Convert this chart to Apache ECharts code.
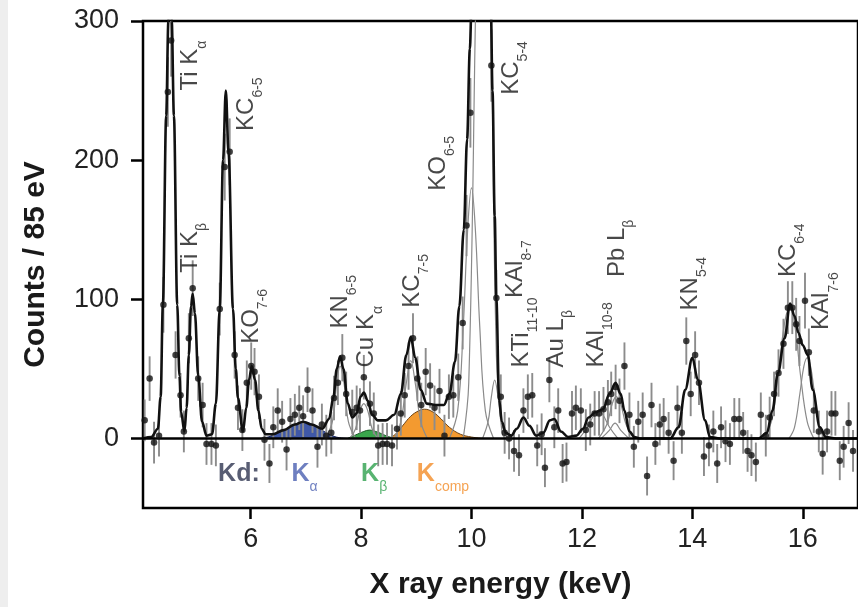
<!DOCTYPE html>
<html><head><meta charset="utf-8">
<script src="https://cdn.jsdelivr.net/npm/echarts@6/dist/echarts.min.js"></script>
<style>html,body{margin:0;padding:0;background:#fff}#c{width:858px;height:607px}</style>
</head><body><div id="c"></div>
<script>
// ---------- DATA ----------
// measured spectrum: [energy keV, counts / 85 eV, error]
const measuredPoints = [
[4.08,13,15],[4.17,43,16],[4.25,-3,15],[4.34,2,15],[4.42,96,20],[4.50,249,25],[4.56,286,26],[4.64,60,17],[4.73,31,16],[4.79,5,15],[4.88,72,18],[4.95,108,20],[5.05,43,16],[5.13,24,16],[5.20,-4,15],[5.29,-4,15],[5.37,-5,15],[5.44,93,19],[5.53,195,24],[5.62,206,24],[5.71,60,17],[5.77,22,16],[5.85,6,15],[5.93,40,16],[6.01,52,17],[6.07,48,17],[6.15,30,16],[6.25,-1,15],[6.34,-18,14],[6.41,8,15],[6.49,20,16],[6.57,12,15],[6.65,-8,15],[6.72,14,15],[6.80,17,15],[6.88,22,16],[6.95,16,15],[7.03,35,16],[7.12,20,16],[7.21,-6,15],[7.29,10,15],[7.37,2,15],[7.46,4,15],[7.51,29,16],[7.58,40,16],[7.66,58,17],[7.73,32,16],[7.84,19,16],[7.92,22,16],[7.98,20,16],[8.05,44,16],[8.16,25,16],[8.23,18,15],[8.31,-5,15],[8.39,-4,15],[8.47,-4,15],[8.56,-5,15],[8.65,7,15],[8.72,18,16],[8.79,31,16],[8.86,52,17],[8.94,72,18],[9.02,43,16],[9.09,24,16],[9.17,48,17],[9.25,38,16],[9.33,22,16],[9.42,34,16],[9.51,2,15],[9.59,30,16],[9.67,31,16],[9.76,44,17],[9.84,83,19],[9.91,153,22],[9.98,234,25],[10.36,268,26],[10.45,101,20],[10.53,30,16],[10.60,4,15],[10.68,0,15],[10.77,-9,15],[10.86,-12,15],[10.94,20,16],[11.02,30,16],[11.10,31,16],[11.19,-5,15],[11.27,3,15],[11.33,-21,14],[11.41,42,16],[11.50,8,15],[11.57,20,16],[11.65,-18,14],[11.72,-17,14],[11.82,18,16],[11.89,22,16],[11.98,20,16],[12.07,6,15],[12.15,10,15],[12.23,18,16],[12.31,18,16],[12.39,21,16],[12.47,26,16],[12.53,32,16],[12.61,37,16],[12.68,27,16],[12.77,52,17],[12.86,17,16],[12.94,-6,15],[13.02,12,15],[13.10,17,16],[13.18,-27,14],[13.26,24,16],[13.33,-4,15],[13.41,10,15],[13.48,14,15],[13.57,4,15],[13.66,-16,14],[13.73,22,16],[13.81,4,15],[13.89,70,17],[13.97,32,16],[14.05,60,17],[14.12,40,16],[14.21,-13,14],[14.30,-5,15],[14.38,5,15],[14.45,-18,14],[14.52,8,15],[14.60,-2,15],[14.68,-4,15],[14.76,14,15],[14.85,14,15],[14.92,4,15],[15.00,-9,15],[15.07,-12,15],[15.15,-17,14],[15.24,17,16],[15.33,2,15],[15.40,15,15],[15.48,32,16],[15.56,47,17],[15.65,68,18],[15.73,94,19],[15.81,94,19],[15.88,82,19],[15.94,70,18],[16.04,99,20],[16.11,62,17],[16.20,20,16],[16.29,5,15],[16.36,-11,15],[16.44,5,15],[16.52,18,16],[16.59,18,16],[16.67,-16,14],[16.74,-6,15],[16.83,11,15],[16.91,-9,15]
];

// total fit curve [keV, counts]
const fitCurve = [[4.05,0],[4.2,1],[4.32,7],[4.37,30],[4.41,96],[4.47,232],[4.51,300],[4.54,330],[4.57,300],[4.61,232],[4.67,96],[4.71,45],[4.74,19],[4.80,5],[4.84,22],[4.88,60],[4.92,95],[4.95,104],[4.99,90],[5.05,45],[5.12,12],[5.20,2],[5.30,3],[5.37,25],[5.44,93],[5.50,200],[5.55,250],[5.60,205],[5.68,93],[5.73,50],[5.77,29],[5.86,5],[5.92,22],[5.97,42],[6.02,52],[6.08,42],[6.14,20],[6.20,7],[6.27,3],[6.4,3],[6.6,6],[6.8,10],[6.95,12],[7.1,10],[7.3,7],[7.42,14],[7.5,30],[7.56,50],[7.62,59],[7.68,50],[7.76,25],[7.84,15],[7.92,18],[7.99,30],[8.05,33],[8.12,27],[8.2,17],[8.3,13],[8.45,13],[8.6,17],[8.72,32],[8.82,60],[8.9,73],[8.98,58],[9.08,35],[9.19,25],[9.35,24],[9.5,24],[9.6,32],[9.7,55],[9.78,95],[9.86,150],[9.92,215],[9.97,280],[10.0,310],[10.07,420],[10.15,560],[10.22,600],[10.30,480],[10.35,310],[10.38,250],[10.42,160],[10.45,100],[10.5,28],[10.55,12],[10.62,4],[10.72,2],[10.82,7],[10.94,15],[11.05,9],[11.17,2],[11.3,4],[11.42,13],[11.5,14],[11.62,5],[11.75,1],[11.9,2],[12.02,7],[12.12,15],[12.25,19],[12.38,21],[12.5,32],[12.61,40],[12.7,32],[12.77,20],[12.86,5],[12.95,1],[13.05,0],[13.6,0],[13.75,8],[13.87,35],[14.0,58],[14.1,42],[14.23,13],[14.32,1],[14.5,0],[15.2,0],[15.35,4],[15.45,20],[15.55,47],[15.67,72],[15.77,97],[15.85,88],[15.92,76],[16.0,67],[16.09,60],[16.18,35],[16.31,8],[16.42,1],[16.6,0],[17.0,0]];

// individual line components (thin gray)
const compKN65  = [[7.35,0],[7.48,12],[7.56,40],[7.62,52],[7.69,40],[7.77,12],[7.9,0]];
const compCuKa  = [[7.8,0],[7.9,7],[7.98,20],[8.05,25],[8.12,20],[8.2,7],[8.3,0]];
const compKC75  = [[8.6,0],[8.72,12],[8.82,40],[8.9,56],[8.98,40],[9.08,12],[9.2,0]];
const compKO65  = [[9.6,0],[9.75,20],[9.85,80],[9.93,150],[10.0,180],[10.07,150],[10.15,80],[10.25,20],[10.4,0]];
const compKC54  = [[9.85,0],[9.95,40],[10.07,300],[10.13,450],[10.22,560],[10.30,450],[10.36,300],[10.45,60],[10.55,5],[10.6,0]];
const compKAl87 = [[10.2,0],[10.3,12],[10.36,30],[10.42,42],[10.48,30],[10.55,10],[10.65,0]];
const compKAl108= [[11.95,0],[12.1,8],[12.22,17],[12.3,20],[12.38,17],[12.5,8],[12.65,0]];
const compPbLb  = [[12.3,0],[12.45,10],[12.55,25],[12.62,30],[12.7,25],[12.8,10],[12.95,0]];
const compPbLb2 = [[12.35,0],[12.5,6],[12.6,11],[12.7,6],[12.85,0]];
const compKC64  = [[15.3,0],[15.45,15],[15.58,55],[15.68,85],[15.77,95],[15.86,80],[15.96,45],[16.08,12],[16.2,0]];
const compKAl76 = [[15.75,0],[15.85,8],[15.95,33],[16.02,52],[16.08,58],[16.14,52],[16.21,33],[16.3,8],[16.4,0]];

// Kd components (filled)
const kdAlpha = [[6.2,0],[6.35,1.5],[6.5,4],[6.7,8],[6.85,11],[6.97,12],[7.1,10.5],[7.25,7],[7.4,3.5],[7.55,1],[7.75,0]];
const kdBeta  = [[7.75,0],[7.9,2.5],[8.05,5],[8.15,6],[8.3,4.5],[8.45,2],[8.6,0]];
const kdComp  = [[8.5,0],[8.62,3],[8.75,9],[8.9,16],[9.05,20],[9.15,21],[9.3,19],[9.45,14],[9.6,8],[9.8,3],[10.0,1],[10.2,0]];

// peak labels: text, subscript, energy anchor, counts anchor (label foot)
const peakMain = ['Ti K','KC','Ti K','KO','KN','Cu K','KC','KO','KC','KAl','KTi','Au L','KAl','Pb L','KN','KC','KAl'];
const peakSub  = ['α','6-5','β','7-6','6-5','α','7-5','6-5','5-4','8-7','11-10','β','10-8','β','5-4','6-4','7-6'];
const peakE    = [5.03,6.05,5.03,6.14,7.75,8.22,9.05,9.53,10.85,10.92,11.03,11.66,12.38,12.77,14.09,15.86,16.47];
const peakY    = [250,221,119,68,79,51,94,178,247,101,51,51,51,116,92,116,78];

// Kd legend texts
const kdMain = ['Kd:','K','K','K'];
const kdSub  = ['','α','β','comp'];
const kdE    = [5.41,6.74,8.0,9.01];
const kdY    = [-31,-31,-31,-31];

const xTicks = [6,8,10,12,14,16];
const yTicks = [0,100,200,300];

// ---------- CHART ----------
const FONT = 'Liberation Sans, Arial, sans-serif';
const chart = echarts.init(document.getElementById('c'), null, {renderer:'canvas'});

const peakRich = {
  m:{fontFamily:FONT,fontSize:24,color:'#1a1a1a',lineHeight:24,padding:[0,0,7,0],verticalAlign:'bottom'},
  s:{fontFamily:FONT,fontSize:14,color:'#1a1a1a',lineHeight:14,verticalAlign:'bottom'}
};
const kdColors = ['#2e3450','#4a5fb0','#2ea04e','#f28c28'];

const peakLabelData = peakMain.map((m,i)=>({
  value:[peakE[i],peakY[i]],
  label:{formatter:'{m|'+m+'}{s|'+peakSub[i]+'}'}
}));
const kdLabelData = kdMain.map((m,i)=>{
  const c = kdColors[i];
  return {
    value:[kdE[i],kdY[i]],
    label:{
      formatter: kdSub[i] ? '{m|'+m+'}{s|'+kdSub[i]+'}' : '{m|'+m+'}',
      rich:{
        m:{fontFamily:FONT,fontSize:25,fontWeight:'bold',color:c,lineHeight:25,padding:[0,0,7,0],verticalAlign:'bottom'},
        s:{fontFamily:FONT,fontSize:14,color:c,lineHeight:14,verticalAlign:'bottom'}
      }
    }
  };
});

function grayComp(data){
  return {type:'line',data:data,smooth:0.4,symbol:'none',z:2,silent:true,
          lineStyle:{color:'#8a8a8a',width:1.2},clip:true};
}
function kdArea(data,fill,stroke){
  return {type:'line',data:data,smooth:0.4,symbol:'none',z:1,silent:true,
          lineStyle:{color:stroke,width:1},areaStyle:{color:fill,opacity:1},clip:true};
}

const option = {
  animation:false,
  backgroundColor:'#fff',
  grid:{left:143,top:21,width:719,height:487,show:true,borderColor:'#000',borderWidth:2.5,backgroundColor:'transparent'},
  xAxis:{type:'value',min:4.05,max:17,
    axisLine:{show:false,onZero:false},
    splitLine:{show:false},
    axisTick:{show:true,customValues:xTicks,length:11,inside:false,lineStyle:{color:'#000',width:2.5}},
    axisLabel:{show:true,customValues:xTicks,margin:18,fontFamily:FONT,fontSize:27,color:'#222'},
    name:'X ray energy (keV)',nameLocation:'middle',nameGap:62,
    nameTextStyle:{fontFamily:FONT,fontSize:30,fontWeight:'bold',color:'#1a1a1a'}
  },
  yAxis:{type:'value',min:-50,max:300,
    axisLine:{show:false},
    splitLine:{show:false},
    axisTick:{show:true,customValues:yTicks,length:12,inside:false,lineStyle:{color:'#000',width:2.5}},
    axisLabel:{show:true,customValues:yTicks,margin:24,fontFamily:FONT,fontSize:27,color:'#222'},
    name:'Counts / 85 eV',nameLocation:'middle',nameGap:92,nameRotate:90,
    nameTextStyle:{fontFamily:FONT,fontSize:30,fontWeight:'bold',color:'#1a1a1a'}
  },
  graphic:[{type:'rect',left:0,top:0,shape:{width:8,height:607},style:{fill:'#eeeeee'},z:-10}],
  series:[
    kdArea(kdAlpha,'#3f58a8','#1f2b60'),
    kdArea(kdBeta,'#3aa64c','#1d5a28'),
    kdArea(kdComp,'#f39a30','#6b4214'),
    grayComp(compKN65),grayComp(compCuKa),grayComp(compKC75),grayComp(compKO65),
    grayComp(compKC54),grayComp(compKAl87),grayComp(compKAl108),grayComp(compPbLb),
    grayComp(compPbLb2),grayComp(compKC64),grayComp(compKAl76),
    {type:'custom',z:3,silent:true,clip:true,data:measuredPoints,
      renderItem:function(params,api){
        const x=api.value(0),y=api.value(1),e=api.value(2);
        const p1=api.coord([x,y-e]),p2=api.coord([x,y+e]);
        return {type:'line',shape:{x1:p1[0],y1:p1[1],x2:p2[0],y2:p2[1]},
                style:{stroke:'#8c8c8c',lineWidth:1.9}};
      }
    },
    {type:'line',data:fitCurve,smooth:0.35,smoothMonotone:'x',symbol:'none',z:4,silent:true,clip:true,
      lineStyle:{color:'#111',width:2.6}},
    {type:'scatter',data:measuredPoints.map(p=>[p[0],p[1]]),symbol:'circle',symbolSize:6.5,z:5,silent:true,clip:true,
      itemStyle:{color:'#111'},
      markLine:{silent:true,symbol:'none',label:{show:false},lineStyle:{color:'#000',width:2.5,type:'solid'},
        data:[{yAxis:0}]}
    },
    {type:'scatter',data:peakLabelData,symbolSize:0,z:6,silent:true,
      label:{show:true,position:[0,0],rotate:90,align:'left',verticalAlign:'middle',rich:peakRich}},
    {type:'scatter',data:kdLabelData,symbolSize:0,z:6,silent:true,
      label:{show:true,position:[0,0],align:'left',verticalAlign:'middle'}}
  ]
};
chart.setOption(option);
</script></body></html>
